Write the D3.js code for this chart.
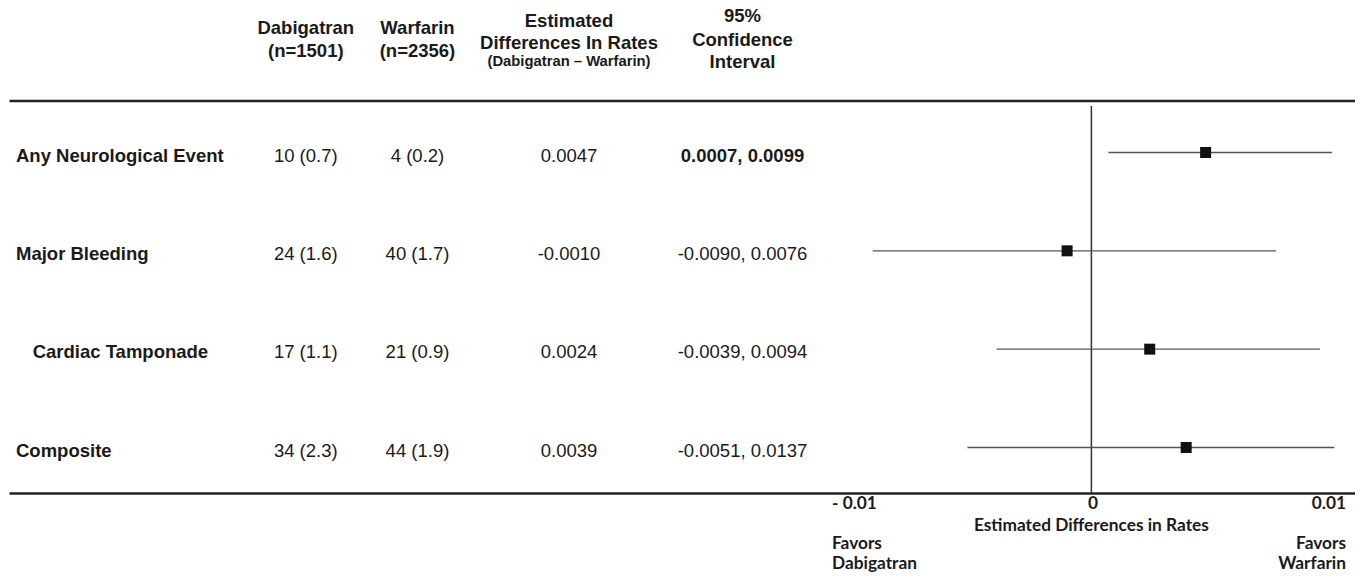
<!DOCTYPE html>
<html><head><meta charset="utf-8">
<script src="https://cdn.jsdelivr.net/npm/d3@7"></script>
<style>body{margin:0;background:#fff} svg{display:block}</style>
</head><body><svg id="c" width="1363" height="587"></svg>
<script>
// ---- data ----
const outcomes = ["Any Neurological Event", "Major Bleeding", "Cardiac Tamponade", "Composite"];
const subgroup = [false, false, true, false];
const dabigatranN = ["10 (0.7)", "24 (1.6)", "17 (1.1)", "34 (2.3)"];
const warfarinN = ["4 (0.2)", "40 (1.7)", "21 (0.9)", "44 (1.9)"];
const estimate = [0.0047, -0.0010, 0.0024, 0.0039];
const ciLower = [0.0007, -0.0090, -0.0039, -0.0051];
const ciUpper = [0.0099, 0.0076, 0.0094, 0.0137];
const significant = [true, false, false, false];
const xTicks = [-0.01, 0, 0.01];
const xTickLabels = ["- 0.01", "0", "0.01"];
const headers = [
  {lines: ["Dabigatran", "(n=1501)"]},
  {lines: ["Warfarin", "(n=2356)"]},
  {lines: ["Estimated", "Differences In Rates", "(Dabigatran \u2013 Warfarin)"]},
  {lines: ["95%", "Confidence", "Interval"]}
];
const axisTitle = "Estimated Differences in Rates";
const favorsLeft = ["Favors", "Dabigatran"];
const favorsRight = ["Favors", "Warfarin"];

// ---- layout ----
const svg = d3.select("#c");
const TABLE_FONT = "'Liberation Sans', Arial, sans-serif";
const AXIS_FONT = "Lato, 'Open Sans', sans-serif";
const colX = [305.8, 417.5, 569, 742.5];
const ruleTop = 101, ruleBottom = 493.5, ruleLeft = 9.5, ruleRight = 1355;
const panelLeft = 832, panelRight = 1346;

const fmt = d3.formatLocale({decimal: ".", thousands: ",", grouping: [3], currency: ["", ""], minus: "-"}).format(".4f");

const y = d3.scalePoint().domain(outcomes).range([155, 450]);
const x = d3.scaleLinear().domain([-0.01, 0.01]).range([848.4, 1334.4]).clamp(true);

// header
const hdrBaselines = [
  [34.3, 56.7],
  [34.3, 56.7],
  [26.7, 48.7, 65.7],
  [22.3, 46.2, 68.3]
];
headers.forEach((h, i) => {
  h.lines.forEach((t, j) => {
    const small = (i === 2 && j === 2);
    svg.append("text")
      .attr("x", colX[i]).attr("y", hdrBaselines[i][j])
      .attr("text-anchor", "middle")
      .attr("font-family", TABLE_FONT)
      .attr("font-weight", "bold")
      .attr("font-size", small ? 14.8 : 18.5)
      .attr("fill", "#1a1a1a")
      .text(t);
  });
});

// rules
svg.append("line").attr("x1", ruleLeft).attr("x2", ruleRight)
  .attr("y1", ruleTop).attr("y2", ruleTop)
  .attr("stroke", "#222").attr("stroke-width", 2.5);
svg.append("line").attr("x1", ruleLeft).attr("x2", ruleRight)
  .attr("y1", ruleBottom).attr("y2", ruleBottom)
  .attr("stroke", "#222").attr("stroke-width", 2.5);

// zero line
svg.append("line").attr("x1", x(0)).attr("x2", x(0))
  .attr("y1", ruleTop + 5).attr("y2", ruleBottom)
  .attr("stroke", "#333").attr("stroke-width", 1.5);

// table rows
const rows = svg.append("g").selectAll("g").data(outcomes).join("g")
  .attr("transform", d => `translate(0,${y(d)})`)
  .attr("font-family", TABLE_FONT).attr("font-size", 18.5).attr("fill", "#1a1a1a");

rows.append("text")
  .attr("x", (d, i) => subgroup[i] ? 32.7 : 16)
  .attr("dy", "0.36em").attr("font-weight", "bold").text(d => d);
rows.append("text").attr("x", colX[0]).attr("text-anchor", "middle")
  .attr("dy", "0.36em").text((d, i) => dabigatranN[i]);
rows.append("text").attr("x", colX[1]).attr("text-anchor", "middle")
  .attr("dy", "0.36em").text((d, i) => warfarinN[i]);
rows.append("text").attr("x", colX[2]).attr("text-anchor", "middle")
  .attr("dy", "0.36em").text((d, i) => fmt(estimate[i]));
rows.append("text").attr("x", colX[3]).attr("text-anchor", "middle")
  .attr("dy", "0.36em").attr("font-weight", (d, i) => significant[i] ? "bold" : "normal")
  .text((d, i) => fmt(ciLower[i]) + ", " + fmt(ciUpper[i]));

// forest marks
const off = -2.5;
const marks = svg.append("g").selectAll("g").data(outcomes).join("g");
marks.append("line")
  .attr("x1", (d, i) => x(ciLower[i])).attr("x2", (d, i) => x(ciUpper[i]))
  .attr("y1", d => y(d) + off).attr("y2", d => y(d) + off)
  .attr("stroke", "#555").attr("stroke-width", 1.3);
const sq = 11;
marks.append("rect")
  .attr("x", (d, i) => x(estimate[i]) - sq / 2).attr("y", d => y(d) + off - sq / 2)
  .attr("width", sq).attr("height", sq).attr("fill", "#111");

// axis tick labels
const anchorFor = v => v < 0 ? "start" : (v > 0 ? "end" : "middle");
const posFor = v => v < 0 ? panelLeft : (v > 0 ? panelRight : x(v) + 1.5);
svg.append("g").selectAll("text").data(xTicks).join("text")
  .attr("x", d => posFor(d)).attr("y", 508.8)
  .attr("text-anchor", d => anchorFor(d))
  .attr("font-family", AXIS_FONT).attr("font-weight", "bold").attr("font-size", 17.3)
  .attr("fill", "#1a1a1a")
  .text((d, i) => xTickLabels[i]);

svg.append("text").attr("x", x(0)).attr("y", 530.8).attr("text-anchor", "middle")
  .attr("font-family", AXIS_FONT).attr("font-weight", "bold").attr("font-size", 17.3)
  .attr("fill", "#1a1a1a").text(axisTitle);

[favorsLeft, favorsRight].forEach((lines, k) => {
  lines.forEach((t, j) => {
    svg.append("text")
      .attr("x", k === 0 ? panelLeft : panelRight)
      .attr("y", [548.8, 568.8][j])
      .attr("text-anchor", k === 0 ? "start" : "end")
      .attr("font-family", AXIS_FONT).attr("font-weight", "bold").attr("font-size", 17.3)
      .attr("fill", "#1a1a1a").text(t);
  });
});
</script></body></html>
